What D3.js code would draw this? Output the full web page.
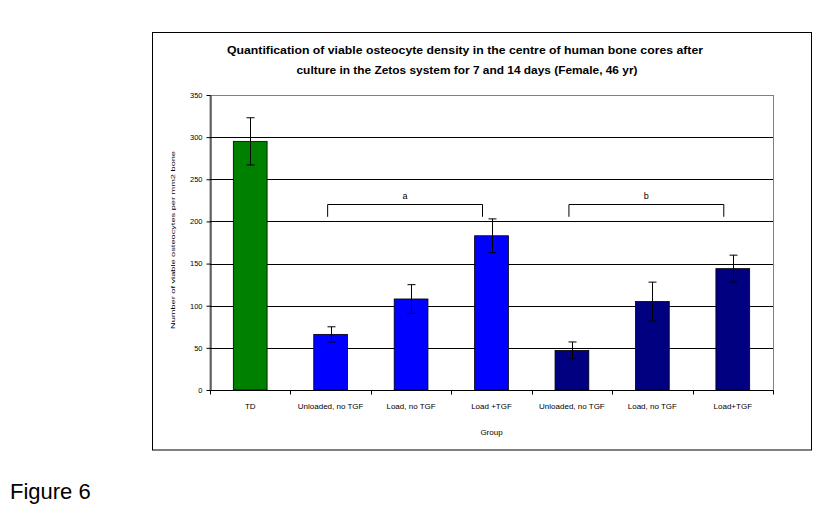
<!DOCTYPE html>
<html><head><meta charset="utf-8">
<script src="https://cdn.jsdelivr.net/npm/d3@7"></script>
<style>body{margin:0;background:#fff}svg{display:block}text{font-family:"Liberation Sans",Arial,sans-serif}</style>
</head><body>
<svg id="c" width="828" height="508"></svg>
<script>
const categories = ["TD","Unloaded, no TGF","Load, no TGF","Load + TGF","Unloaded, no TGF ","Load, no TGF ","Load+TGF"];
const labels = ["TD","Unloaded, no TGF","Load, no TGF","Load +TGF","Unloaded, no TGF","Load, no TGF","Load+TGF"];
const values = [295, 66, 108, 183, 47, 105, 144];
const errors = [28, 9, 17, 20, 10, 23, 16];
const colors = ["#008000","#0000FF","#0000FF","#0000FF","#000080","#000080","#000080"];
const yTicks = [0,50,100,150,200,250,300,350];
const brackets = [{label:"a", from:1, to:3}, {label:"b", from:4, to:6}];
const bracketTop = 220.5, bracketBottom = 205.5;

const svg = d3.select("#c");
const L=210, R=773, T=95, B=390;
const x = d3.scaleBand().domain(categories).range([L,R]).paddingInner(0.58).paddingOuter(0.29);
const y = d3.scaleLinear().domain([0,350]).range([B,T]);

// outer frame
svg.append("rect").attr("x",152.5).attr("y",32.5).attr("width",659).attr("height",417.5)
  .attr("fill","none").attr("stroke","#000").attr("stroke-width",1);

// plot border (grey top/right)
svg.append("rect").attr("x",L).attr("y",T+0.5).attr("width",R-L+0.5).attr("height",B-T)
  .attr("fill","none").attr("stroke","#808080").attr("stroke-width",1);

// gridlines
svg.append("g").selectAll("line").data(yTicks.filter(d=>d>0 && d<350)).join("line")
  .attr("x1",L).attr("x2",R).attr("y1",d=>Math.round(y(d))+0.5).attr("y2",d=>Math.round(y(d))+0.5)
  .attr("stroke","#000").attr("stroke-width",1);

// y axis
const ya = svg.append("g").attr("transform",`translate(${L+0.5},0)`)
  .call(d3.axisLeft(y).tickValues(yTicks).tickSize(4).tickSizeOuter(0));
ya.select(".domain").attr("stroke","#000");
ya.selectAll("text").attr("font-size",7.5).attr("fill","#000").attr("dx",-1);

// x axis
const step = x.step();
const xa = svg.append("g").attr("transform",`translate(0,${B+0.5})`);
xa.append("line").attr("x1",L).attr("x2",R+0.5).attr("stroke","#000");
const bounds = d3.range(categories.length+1).map(i=>L+i*(R-L)/categories.length);
xa.selectAll("line.t").data(bounds).join("line").attr("class","t")
  .attr("x1",d=>Math.round(d)+0.5).attr("x2",d=>Math.round(d)+0.5).attr("y1",0).attr("y2",4).attr("stroke","#000");
xa.selectAll("text").data(categories).join("text")
  .attr("x",d=>x(d)+x.bandwidth()/2).attr("y",18).attr("text-anchor","middle")
  .attr("font-size",8).attr("fill","#000").text((d,i)=>labels[i]);

// bars
svg.append("g").selectAll("rect").data(categories).join("rect")
  .attr("x",d=>x(d)).attr("width",x.bandwidth())
  .attr("y",(d,i)=>y(values[i])).attr("height",(d,i)=>B-y(values[i]))
  .attr("fill",(d,i)=>colors[i]).attr("stroke","#000").attr("stroke-width",0.8);

// error bars
const eb = svg.append("g").attr("stroke","#000").attr("stroke-width",1);
categories.forEach((c,i)=>{
  const cx = Math.round(x(c)+x.bandwidth()/2)+0.5;
  const yt = y(values[i]+errors[i]), yb = y(values[i]-errors[i]);
  eb.append("line").attr("x1",cx).attr("x2",cx).attr("y1",yt).attr("y2",yb);
  eb.append("line").attr("x1",cx-4).attr("x2",cx+4).attr("y1",yt).attr("y2",yt);
  eb.append("line").attr("x1",cx-4).attr("x2",cx+4).attr("y1",yb).attr("y2",yb);
});

// significance brackets
brackets.forEach(b=>{
  const x1 = x(categories[b.from])+x.bandwidth()/2-3;
  const x2 = x(categories[b.to])+x.bandwidth()/2-9;
  const yt = Math.round(y(bracketTop))+0.5, yb = y(bracketBottom);
  svg.append("path").attr("d",`M${x1},${yb}V${yt}H${x2}V${yb}`).attr("fill","none").attr("stroke","#000");
  svg.append("text").attr("x",(x1+x2)/2).attr("y",yt-6).attr("text-anchor","middle")
    .attr("font-size",9).attr("fill","#000").text(b.label);
});

// title
svg.append("text").attr("x",465).attr("y",54).attr("text-anchor","middle").attr("font-size",11.5).attr("font-weight","bold")
  .attr("textLength",476).attr("lengthAdjust","spacingAndGlyphs")
  .text("Quantification of viable osteocyte density in the centre of human bone cores after");
svg.append("text").attr("x",467).attr("y",74).attr("text-anchor","middle").attr("font-size",11.5).attr("font-weight","bold")
  .attr("textLength",341).attr("lengthAdjust","spacingAndGlyphs")
  .text("culture in the Zetos system for 7 and 14 days (Female, 46 yr)");

// axis titles
svg.append("text").attr("x",(L+R)/2).attr("y",435).attr("text-anchor","middle").attr("font-size",8).text("Group");
svg.append("text").attr("transform",`translate(175,240) rotate(-90)`).attr("text-anchor","middle")
  .attr("font-size",6).attr("textLength",178).attr("lengthAdjust","spacingAndGlyphs")
  .text("Number of viable osteocytes per mm2 bone");

// figure caption
svg.append("text").attr("x",10).attr("y",499).attr("font-size",22).text("Figure 6");
</script>
</body></html>
